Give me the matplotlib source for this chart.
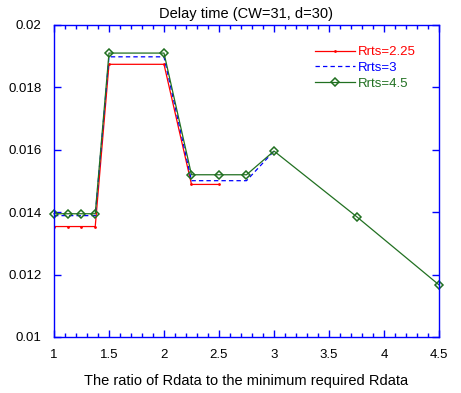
import matplotlib
matplotlib.use("Agg")
import matplotlib.pyplot as plt
from matplotlib.ticker import MultipleLocator, FormatStrFormatter
import numpy as np

plt.rcParams['font.family'] = ['Liberation Sans', 'DejaVu Sans']

# ratio of Rdata to minimum required Rdata
ratio = [1, 1.125, 1.25, 1.375, 1.5, 2, 2.25, 2.5, 2.75, 3, 3.75, 4.5]

delay_225 = [0.01354, 0.01354, 0.01354, 0.01354, 0.01874, 0.01874, 0.01489, 0.01489]
delay_3 = [0.01389, 0.01389, 0.01389, 0.01389, 0.01898, 0.01898, 0.01501, 0.01501, 0.01501, 0.01596]
delay_45 = [0.01395, 0.01395, 0.01395, 0.01395, 0.01910, 0.01910, 0.01520, 0.01520, 0.01520, 0.01596, 0.01386, 0.01167]

fig = plt.figure(figsize=(4.61, 3.93), dpi=100)
ax = fig.add_axes([0.1171, 0.1425, 0.8352, 0.7939])

green = '#217021'
ax.plot(ratio[:len(delay_225)], delay_225, color='red', lw=0.9, marker='.', ms=2,
        label='Rrts=2.25')
ax.plot(ratio[:len(delay_3)], delay_3, color='blue', lw=0.9, ls=(0, (3.5, 2.5)),
        label='Rrts=3')
ax.plot(ratio, delay_45, color=green, lw=0.9, marker='D', ms=3.6, mfc='none',
        mew=1.1, label='Rrts=4.5', clip_on=False)

ax.set_xlim(1, 4.5)
ax.set_ylim(0.01, 0.02)
ax.xaxis.set_major_locator(MultipleLocator(0.5))
ax.xaxis.set_minor_locator(MultipleLocator(0.1))
ax.yaxis.set_major_locator(MultipleLocator(0.002))
ax.xaxis.set_major_formatter(FormatStrFormatter('%g'))
ax.yaxis.set_major_formatter(FormatStrFormatter('%g'))

for s in ax.spines.values():
    s.set_color('blue')
    s.set_linewidth(1.0)
ax.tick_params(which='both', direction='in', top=True, right=True,
               color='blue', labelcolor='black', labelsize=9.5)
ax.tick_params(which='major', length=5, width=1)
ax.tick_params(axis='x', which='major', pad=9)
ax.tick_params(axis='y', which='major', pad=9)
ax.tick_params(which='minor', length=3, width=1)

ax.set_title('Delay time (CW=31, d=30)', fontsize=10.5, pad=5)
ax.set_xlabel('The ratio of Rdata to the minimum required Rdata', fontsize=10.5,
              labelpad=9)

ax.legend(loc='upper right', frameon=False, fontsize=9.5, labelcolor='linecolor',
          numpoints=1, handlelength=3.0, handletextpad=0.2, labelspacing=0.25,
          borderaxespad=0.5, bbox_to_anchor=(0.97, 0.97))

fig.savefig('out.png', dpi=100)
